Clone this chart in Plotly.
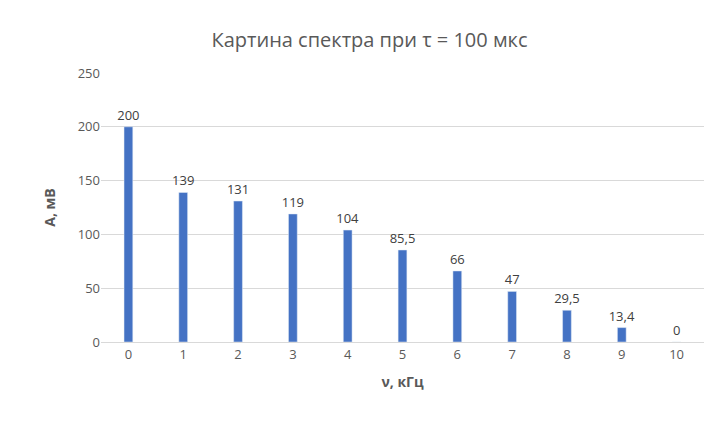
import plotly.graph_objects as go

categories = ["0","1","2","3","4","5","6","7","8","9","10"]
values = [200,139,131,119,104,85.5,66,47,29.5,13.4,0]
labels = ["200","139","131","119","104","85,5","66","47","29,5","13,4","0"]

fig = go.Figure(go.Bar(x=categories, y=values, text=labels, textposition="outside",
                       marker_color="#4472C4", width=0.16, cliponaxis=False,
                       constraintext="none",
                       textfont=dict(size=13, color="#404040")))
fig.update_layout(
    width=723, height=423, margin=dict(l=93, r=27, t=65, b=89),
    paper_bgcolor="white", plot_bgcolor="white",
    font=dict(family="Open Sans, Liberation Sans, sans-serif", color="#595959", size=13),
    title=dict(text="Картина спектра при τ = 100 мкс", x=0.5, xanchor="center",
               y=1-32/423, yanchor="middle", yref="container",
               font=dict(size=20, color="#595959")),
    showlegend=False, bargap=0.84,
    xaxis=dict(type="category", showgrid=False, showline=True, linecolor="#D9D9D9",
               ticks="", title=dict(text="<b>ν, кГц</b>", font=dict(size=14, color="#595959"))),
    yaxis=dict(range=[0,250], dtick=50, showgrid=True, gridcolor="#D9D9D9", zeroline=False,
               showline=False, ticks="", ticklen=0,
               title=dict(text="<b>A, мВ</b>", font=dict(size=14, color="#595959"), standoff=18)),
)
fig.write_html("out.html")
